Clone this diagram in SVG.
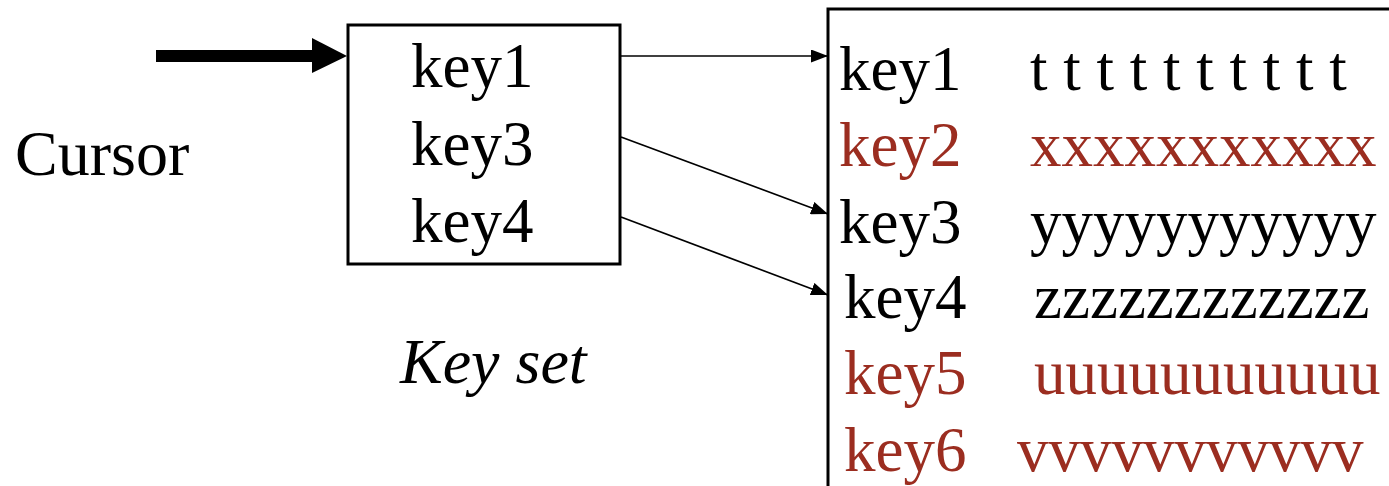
<svg xmlns="http://www.w3.org/2000/svg" width="1389" height="486" viewBox="0 0 1389 486">
  <style>
    text { font-family: "Liberation Serif", "Times New Roman", serif; font-size: 63px; fill: #000; }
    .red { fill: #9b2d20; }
    .ital { font-style: italic; }
    .big { font-size: 64px; }
    .box { fill: #fff; stroke: #000; stroke-width: 3; }
    .link { stroke: #000; stroke-width: 1.7; fill: none; marker-end: url(#head); }
  </style>
  <defs>
    <marker id="head" markerUnits="userSpaceOnUse" markerWidth="17" markerHeight="13" refX="17" refY="6.5" orient="auto">
      <path d="M0,0 L17,6.5 L0,13 z" fill="#000"/>
    </marker>
  </defs>

  <rect width="1389" height="486" fill="#fff"/>

  <!-- cursor label and its pointer -->
  <g id="cursor">
    <text class="big" x="15" y="175">Cursor</text>
    <line x1="156" y1="56" x2="313" y2="56" stroke="#000" stroke-width="12"/>
    <polygon points="312,38 347,56 312,73" fill="#000"/>
  </g>

  <!-- key set -->
  <g id="keyset">
    <rect class="box" x="348" y="25" width="272" height="239"/>
    <text x="411" y="87">key1</text>
    <text x="411" y="165">key3</text>
    <text x="411" y="242">key4</text>
    <text class="ital big" x="400" y="383">Key set</text>
  </g>

  <!-- table rows -->
  <g id="table">
    <rect class="box" x="828" y="9" width="620" height="600"/>
    <text x="839" y="90">key1</text>
    <text x="1030" y="90">t t t t t t t t t t</text>
    <text class="red" x="839" y="166">key2</text>
    <text class="red" x="1030" y="166">xxxxxxxxxxx</text>
    <text x="839" y="243">key3</text>
    <text x="1030" y="243">yyyyyyyyyyy</text>
    <text x="844" y="318">key4</text>
    <text x="1034" y="318">zzzzzzzzzzzz</text>
    <text class="red" x="844" y="394">key5</text>
    <text class="red" x="1034" y="394">uuuuuuuuuuu</text>
    <text class="red" x="844" y="471">key6</text>
    <text class="red" x="1017" y="471">vvvvvvvvvvv</text>
  </g>

  <!-- key set entries pointing into the table -->
  <g id="connectors">
    <line class="link" x1="620" y1="56" x2="828" y2="56"/>
    <line class="link" x1="621" y1="137" x2="828" y2="214"/>
    <line class="link" x1="621" y1="217" x2="828" y2="295"/>
  </g>
</svg>
